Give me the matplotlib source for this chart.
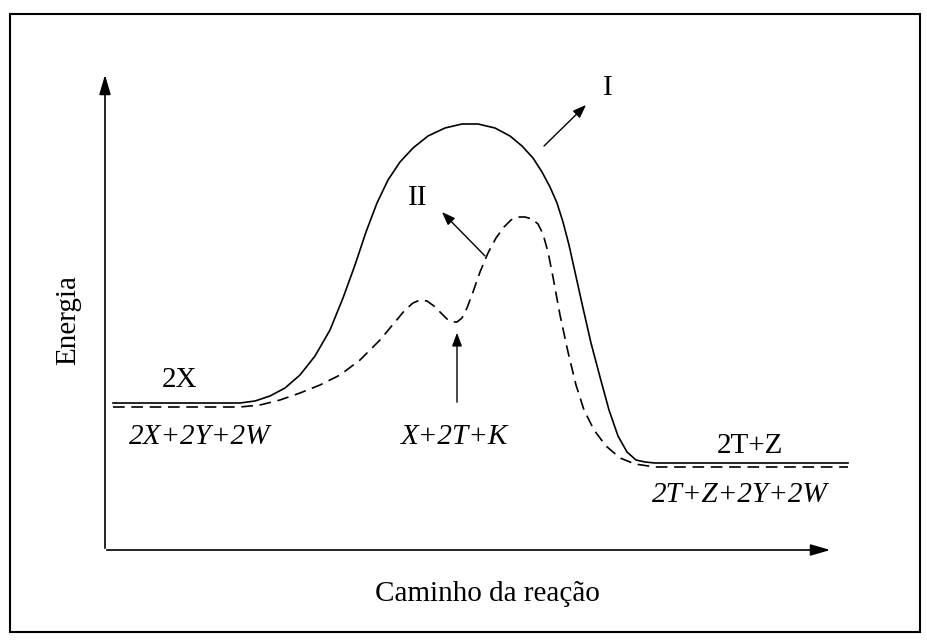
import matplotlib
matplotlib.use("Agg")
import matplotlib.pyplot as plt
from matplotlib.patches import Rectangle

# Curve I (solid), pixel-space coordinates
curve1_x = [113,240,255,270,285,300,315,330,343,355,366,377,388,400,413,428,445,462,478,495,510,522,533,542,550,557,563,569,575,583,591,600,609,618,627,636,645,655,848]
curve1_y = [403,403,401,396,388,375,356,330,298,265,232,203,180,162,148,136,128,124,124,128,136,146,158,172,187,203,222,245,272,308,343,377,410,436,452,460,462,463,463]
# Curve II (dashed)
curve2_x = [113,240,260,280,300,320,340,360,380,395,405,413,420,427,434,441,447,452,457,462,467,473,480,488,496,504,511,518,525,532,538,543,548,553,560,568,576,584,594,606,620,635,655,848]
curve2_y = [407,407,405,400,393,385,375,360,340,322,310,303,300,301,306,313,319,322,322,318,308,292,272,253,238,227,220,217,217,219,224,234,252,277,315,352,385,410,430,446,458,464,467,467]

plt.rcParams['font.family'] = ['Liberation Serif', 'DejaVu Serif']
fig = plt.figure(figsize=(9.28, 6.41), dpi=100)
ax = fig.add_axes([0, 0, 1, 1])
ax.set_xlim(0, 928); ax.set_ylim(641, 0); ax.axis('off')

ax.add_patch(Rectangle((10, 14), 910, 618, fill=False, lw=1.5, ec='black'))
ax.annotate('', xy=(105, 72), xytext=(105, 551), arrowprops=dict(arrowstyle='-|>,head_length=1.2,head_width=0.35', lw=1.2, color='black'))
ax.annotate('', xy=(833, 550), xytext=(104, 550), arrowprops=dict(arrowstyle='-|>,head_length=1.2,head_width=0.35', lw=1.2, color='black'))

ax.plot(curve1_x, curve1_y, color='black', lw=1.2)
ax.plot(curve2_x, curve2_y, color='black', lw=1.2, ls=(0, (7, 4)))

fs = 21
ax.text(180, 380, '2X', fontsize=fs, ha='center', va='center')
ax.text(200, 437, '2X+2Y+2W', fontsize=fs, ha='center', va='center', style='italic')
ax.text(455, 437, 'X+2T+K', fontsize=fs, ha='center', va='center', style='italic')
ax.text(750, 446, '2T+Z', fontsize=fs, ha='center', va='center')
ax.text(740, 495, '2T+Z+2Y+2W', fontsize=fs, ha='center', va='center', style='italic')
ax.text(608, 88, 'I', fontsize=fs, ha='center', va='center')
ax.text(418, 198, 'II', fontsize=fs, ha='center', va='center')
ax.text(68, 320, 'Energia', fontsize=fs, ha='center', va='center', rotation=90)
ax.text(487, 594, 'Caminho da reação', fontsize=fs, ha='center', va='center')

ap = dict(arrowstyle='-|>,head_length=0.8,head_width=0.3', lw=1.0, color='black')
ax.annotate('', xy=(588, 103), xytext=(542, 148), arrowprops=ap)
ax.annotate('', xy=(440, 210), xytext=(487, 258), arrowprops=ap)
ax.annotate('', xy=(457, 330), xytext=(457, 405), arrowprops=ap)

fig.savefig('out.png', dpi=100)
